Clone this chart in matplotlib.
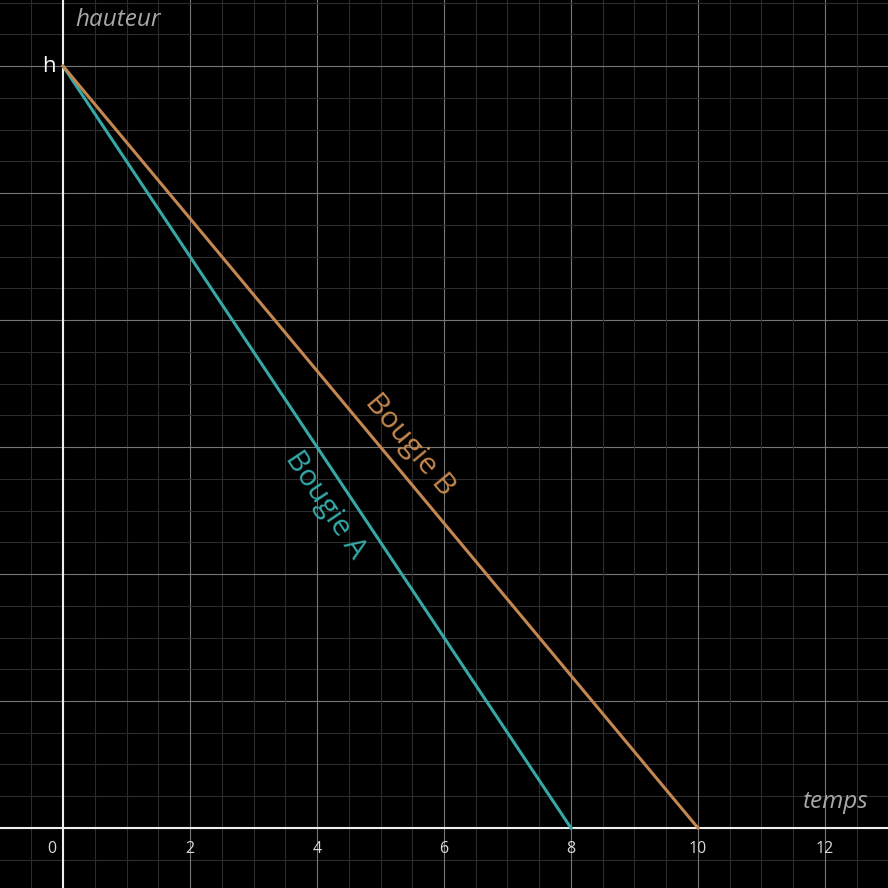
import numpy as np
import matplotlib
matplotlib.use("Agg")
import matplotlib.pyplot as plt

plt.rcParams['font.family'] = ['Open Sans', 'DejaVu Sans']

# data: two candles burning down from height h
h = 12
t_A = [0, 8]
y_A = [h, 0]
t_B = [0, 10]
y_B = [h, 0]
xticks = [0, 2, 4, 6, 8, 10, 12]

col_A = '#36a8a8'
col_B = '#c4874f'

fig = plt.figure(figsize=(8.88, 8.88), dpi=100, facecolor='black')
ax = fig.add_axes([0, 0, 1, 1])
ax.set_facecolor('black')
ax.set_xlim(-0.992, 12.992)
ax.set_ylim(-0.945, 13.04)
ax.set_aspect('equal')
for s in ax.spines.values():
    s.set_visible(False)

# grid
for v in np.arange(-0.5, 13.01, 0.5):
    major = abs(v / 2 - round(v / 2)) < 1e-9
    c = '#767676' if major else '#2c2c2c'
    ax.axvline(v, color=c, lw=0.8, zorder=1)
    ax.axhline(v, color=c, lw=0.8, zorder=1)
ax.axvline(0, color='#eeeeee', lw=1.5, zorder=2)
ax.axhline(0, color='#eeeeee', lw=1.5, zorder=2)
ax.set_xticks([]); ax.set_yticks([])

# lines
ax.plot(t_A, y_A, color=col_A, lw=2.2, zorder=3)
ax.plot(t_B, y_B, color=col_B, lw=2.2, zorder=3)

# tick labels
for x in xticks:
    if x == 0:
        ax.text(-0.17, -0.2, '0', color='#d8d8d8', fontsize=11.5, ha='center', va='top')
    else:
        ax.text(x, -0.2, str(x), color='#d8d8d8', fontsize=11.5, ha='center', va='top')
ax.text(-0.12, h, 'h', color='white', fontsize=16, ha='right', va='center')

# axis labels
ax.text(0.2, 12.72, 'hauteur', color='#a8a8a8', fontsize=17.5, style='italic',
        ha='left', va='center')
ax.text(12.68, 0.41, 'temps', color='#a8a8a8', fontsize=17.5, style='italic',
        ha='right', va='center')

# line labels
rotA = np.degrees(np.arctan2(y_A[1] - y_A[0], t_A[1] - t_A[0]))
rotB = np.degrees(np.arctan2(y_B[1] - y_B[0], t_B[1] - t_B[0]))
ax.text(4.13, 5.09, 'Bougie A', color=col_A, fontsize=21.5, rotation=rotA,
        ha='center', va='center', rotation_mode='anchor')
ax.text(5.46, 6.03, 'Bougie B', color=col_B, fontsize=21.5, rotation=rotB,
        ha='center', va='center', rotation_mode='anchor')

fig.savefig('out.png', dpi=100, facecolor='black')
